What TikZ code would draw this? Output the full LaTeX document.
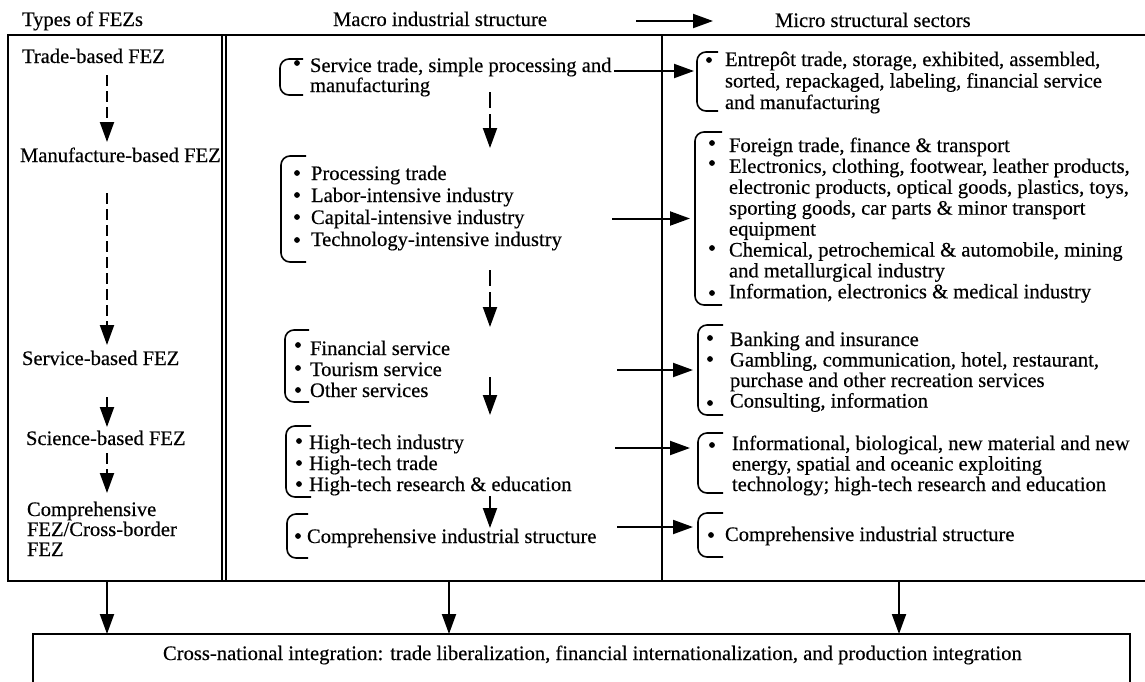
\documentclass[tikz,border=0pt]{standalone}
\usepackage{fontspec}
\setmainfont{Liberation Serif}[FakeBold=0.4]
\usetikzlibrary{arrows.meta,calc}

\tikzset{
  txt/.style={anchor=base west, inner sep=0pt, outer sep=0pt,
    font=\fontsize{20.6}{22}\selectfont, text height=14pt, text depth=4pt},
  grp/.style 2 args={anchor=north west, inner sep=0pt, outer sep=0pt,
    minimum width=#1, minimum height=#2},
  framebox/.style={anchor=north west, inner sep=0pt, outer sep=0pt, draw, line width=1.7pt},
  colbox/.style={anchor=north west, inner sep=0pt, outer sep=0pt},
  brk/.style={line width=1.6pt, rounded corners=9pt},
  arr/.style={line width=2pt, -{Triangle[length=20pt,width=14pt]}},
  darr/.style={arr, dash pattern=on 11pt off 5pt},
  mdarr/.style={arr, dash pattern=on 16pt off 6pt},
}

% one node per printed line: name, x, first baseline, line step, list of lines
\newcommand\tlines[5]{%
  \foreach \lineText [count=\i] in {#5}{%
    \node[txt] (#1-\i) at (#2,{#3+(\i-1)*#4}) {\lineText};}}
% left bracket round a group node
\newcommand\grpbracket[2]{%
  \draw[brk] ([xshift=#2]#1.north west) -- (#1.north west) -- (#1.south west) -- ([xshift=#2]#1.south west);}
\newcommand\dotmark[2]{\fill (#1,#2) circle (2.9pt);}

\begin{document}
\begin{tikzpicture}[x=1pt,y=-1pt]
\useasboundingbox (0,0) rectangle (1145,681);
\clip (0,0) rectangle (1145,681);

% ---- headings
\node[txt] (h1) at (22,26) {Types of FEZs};
\node[txt] (h2) at (333,26) {Macro industrial structure};
\node[txt] (h3) at (775,27) {Micro structural sectors};
\coordinate (ha) at (636,21);
\coordinate (hb) at (713,21);
\draw[arr] (ha) -- (hb);

% ---- frames
\node[framebox, minimum width=214pt, minimum height=546pt] (leftbox) at (8,35) {};
\node[colbox, minimum width=436pt, minimum height=546pt] (midcol) at (226,35) {};
\node[colbox, minimum width=500pt, minimum height=546pt] (rightcol) at (662,35) {};
\draw[line width=2pt] (leftbox.north west) -- (rightcol.north east);
\draw[line width=2pt] (leftbox.south west) -- (rightcol.south east);
\draw[line width=2.8pt] (midcol.north west) -- (midcol.south west);
\draw[line width=1.3pt] (rightcol.north west) -- (rightcol.south west);

% ---- result box
\node[framebox, line width=1.6pt, minimum width=1097pt, minimum height=90pt] (bottombox) at (33,634) {};
\node[txt] (btext) at (163,660) {Cross-national integration: trade liberalization, financial internationalization, and production integration};

\draw[arr] ([xshift=-8pt]leftbox.south) -- ([xshift=-8pt]leftbox.south |- bottombox.north);
\draw[arr] ([xshift=5pt]midcol.south) -- ([xshift=5pt]midcol.south |- bottombox.north);
\draw[arr] ([xshift=-13pt]rightcol.south) -- ([xshift=-13pt]rightcol.south |- bottombox.north);

% ---- types of FEZs
\node[txt] (trade) at (22,63) {Trade-based FEZ};
\node[txt] (manuf) at (20,162) {Manufacture-based FEZ};
\node[txt] (service) at (22,365) {Service-based FEZ};
\node[txt] (science) at (26,445) {Science-based FEZ};
\tlines{comp}{27}{516}{20}{{Comprehensive},{FEZ/Cross-border},{FEZ}}

\coordinate (lx) at (107,0);
\draw[darr, shorten <=8pt, shorten >=6pt] (trade.south -| lx) -- (manuf.north -| lx);
\draw[darr, shorten <=27pt, shorten >=6pt] (manuf.south -| lx) -- (service.north -| lx);
\draw[darr, shorten <=28pt, shorten >=4pt] (service.south -| lx) -- (science.north -| lx);
\draw[darr, shorten <=4pt, shorten >=9pt] (science.south -| lx) -- (comp-1.north -| lx);

% ---- macro industrial structure
\node[grp={334pt}{36pt}] (m1) at (280,59) {};
\node[grp={331pt}{106pt}] (m2) at (281,156) {};
\node[grp={332pt}{72pt}] (m3) at (285,330) {};
\node[grp={329pt}{71pt}] (m4) at (286,426) {};
\node[grp={330pt}{44pt}] (m5) at (287,514) {};
\grpbracket{m1}{23pt}
\grpbracket{m2}{25pt}
\grpbracket{m3}{24pt}
\grpbracket{m4}{25pt}
\grpbracket{m5}{21pt}

\tlines{m1t}{310}{72}{20}{{Service trade, simple processing and},{manufacturing}}
\tlines{m2t}{311}{180}{22}{{Processing trade},{Labor-intensive industry},{Capital-intensive industry},{Technology-intensive industry}}
\tlines{m3t}{310}{355}{21}{{Financial service},{Tourism service},{Other services}}
\tlines{m4t}{309}{449}{21}{{High-tech industry},{High-tech trade},{High-tech research \& education}}
\tlines{m5t}{307}{543}{0}{{Comprehensive industrial structure}}

\dotmark{297}{63}
\dotmark{297}{173}\dotmark{297}{195}\dotmark{297}{217}\dotmark{297}{240}
\dotmark{298}{345}\dotmark{298}{368}\dotmark{298}{390}
\dotmark{299}{441}\dotmark{299}{463}\dotmark{299}{484}
\dotmark{298}{536}

\coordinate (mx) at (490,0);
\draw[mdarr, shorten <=-3pt, shorten >=8pt] (m1.south -| mx) -- (m2.north -| mx);
\draw[mdarr, shorten <=8pt, shorten >=3pt] (m2.south -| mx) -- (m3.north -| mx);
\draw[arr, shorten <=11pt, shorten >=11pt] (m3.center -| mx) -- (m4.north -| mx);
\draw[arr, shorten <=-1pt, shorten >=8pt] (m4.south -| mx) -- (m5.center -| mx);

% ---- micro structural sectors
\node[grp={420pt}{59pt}] (r1) at (697,52) {};
\node[grp={420pt}{173pt}] (r2) at (695,132) {};
\node[grp={420pt}{90pt}] (r3) at (698,325) {};
\node[grp={420pt}{60pt}] (r4) at (698,433) {};
\node[grp={420pt}{44pt}] (r5) at (698,513) {};
\grpbracket{r1}{21pt}
\grpbracket{r2}{27pt}
\grpbracket{r3}{25pt}
\grpbracket{r4}{25pt}
\grpbracket{r5}{25pt}

\tlines{r1t}{725}{66}{21.5}{{Entrepôt trade, storage, exhibited, assembled,},{sorted, repackaged, labeling, financial service},{and manufacturing}}
\tlines{r2t}{729}{152}{20.9}{{Foreign trade, finance \& transport},{Electronics, clothing, footwear, leather products,},{electronic products, optical goods, plastics, toys,},{sporting goods, car parts \& minor transport},{equipment},{Chemical, petrochemical \& automobile, mining},{and metallurgical industry},{Information, electronics \& medical industry}}
\tlines{r3t}{730}{346}{20.5}{{Banking and insurance},{Gambling, communication, hotel, restaurant,},{purchase and other recreation services},{Consulting, information}}
\tlines{r4t}{732}{450}{20.5}{{Informational, biological, new material and new},{energy, spatial and oceanic exploiting},{technology; high-tech research and education}}
\tlines{r5t}{725}{541}{0}{{Comprehensive industrial structure}}

\dotmark{709}{60}
\dotmark{712}{143}\dotmark{712}{163}\dotmark{712}{248}\dotmark{712}{293}
\dotmark{710}{338}\dotmark{710}{359}\dotmark{710}{403}
\dotmark{712}{445}
\dotmark{711}{535}

% ---- macro to micro
\draw[arr, shorten >=3pt] ([yshift=6pt]m1.east) -- ([yshift=6pt]m1.east -| r1.west);
\draw[arr, shorten >=5pt] (m2.east |- r2.west) -- (r2.west);
\draw[arr, shorten >=5pt] (m3.east |- r3.west) -- (r3.west);
\draw[arr, shorten >=8pt] ([yshift=13.5pt]m4.east) -- ([yshift=13.5pt]m4.east -| r4.west);
\draw[arr, shorten >=5pt] ([yshift=9pt]m5.east) -- ([yshift=9pt]m5.east -| r5.west);
\end{tikzpicture}
\end{document}
